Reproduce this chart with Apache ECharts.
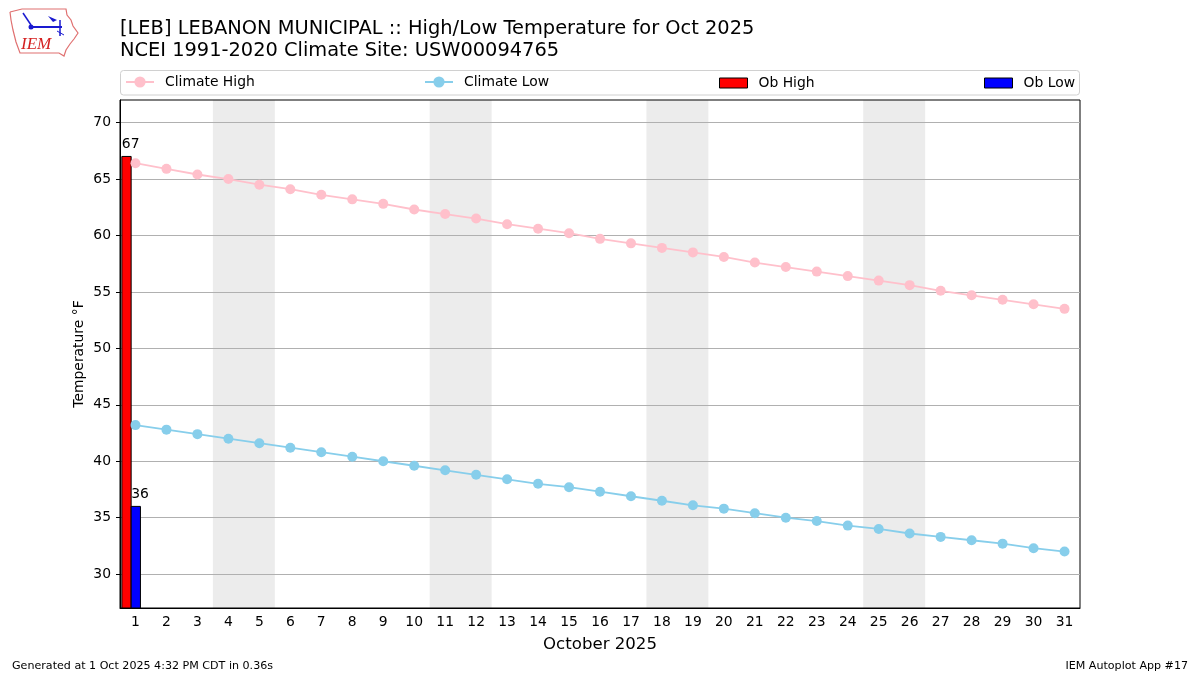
<!DOCTYPE html>
<html>
<head>
<meta charset="utf-8">
<script src="https://cdn.jsdelivr.net/npm/echarts@6/dist/echarts.min.js"></script>
<style>html,body{margin:0;padding:0;background:#fff}#c{width:1200px;height:675px}</style>
</head>
<body>
<div id="c"></div>
<script>
const days = ['1','2','3','4','5','6','7','8','9','10','11','12','13','14','15','16','17','18','19','20','21','22','23','24','25','26','27','28','29','30','31'];
const climateHigh = [66.4,65.9,65.4,65.0,64.5,64.1,63.6,63.2,62.8,62.3,61.9,61.5,61.0,60.6,60.2,59.7,59.3,58.9,58.5,58.1,57.6,57.2,56.8,56.4,56.0,55.6,55.1,54.7,54.3,53.9,53.5];
const climateLow = [43.2,42.8,42.4,42.0,41.6,41.2,40.8,40.4,40.0,39.6,39.2,38.8,38.4,38.0,37.7,37.3,36.9,36.5,36.1,35.8,35.4,35.0,34.7,34.3,34.0,33.6,33.3,33.0,32.7,32.3,32.0];
const obDays = [1];
const obHigh = [67];
const obLow = [36];
const weekends = [[4,5],[11,12],[18,19],[25,26]];
const yTicks = [30,35,40,45,50,55,60,65,70];

const FONT = 'DejaVu Sans';
const FS = 13.9;

function barRenderer(off0, off1) {
  return function (params, api) {
    const x = api.value(0), v = api.value(1);
    const p0 = api.coord([x + off0, v]);
    const p1 = api.coord([x + off1, v]);
    const base = params.coordSys.y + params.coordSys.height;
    return {
      type: 'group',
      children: [
        {type: 'rect', shape: {x: p0[0], y: p0[1], width: p1[0] - p0[0], height: base - p0[1]},
         style: {fill: api.visual('color'), stroke: '#000', lineWidth: 1}},
        {type: 'text', style: {text: String(v), x: p0[0], y: p0[1] - 5, align: 'left', verticalAlign: 'bottom',
         font: FS + 'px "DejaVu Sans"', fill: '#000'}}
      ]
    };
  };
}

function shadeRenderer(params, api) {
  const a = api.value(0), b = api.value(1);
  const cs = params.coordSys;
  const p0 = api.coord([a - 0.5, 50]);
  const p1 = api.coord([b + 0.5, 50]);
  return {type: 'rect', shape: {x: p0[0], y: cs.y, width: p1[0] - p0[0], height: cs.height}, style: {fill: '#ececec'}};
}

const chart = echarts.init(document.getElementById('c'), null, {renderer: 'canvas'});

const legendBase = {orient: 'horizontal', padding: 0, itemWidth: 28, itemHeight: 14, textStyle: {fontFamily: FONT, fontSize: FS, color: '#000', padding: [0,0,0,6]}, selectedMode: false};

chart.setOption({
  animation: false,
  backgroundColor: '#fff',
  textStyle: {fontFamily: FONT},
  title: {
    text: '[LEB] LEBANON MUNICIPAL :: High/Low Temperature for Oct 2025\nNCEI 1991-2020 Climate Site: USW00094765',
    left: 120, top: 18, padding: 0,
    textStyle: {fontFamily: FONT, fontSize: 19.4, fontWeight: 'normal', color: '#000', lineHeight: 22}
  },
  legend: [
    Object.assign({}, legendBase, {left: 125, top: 75, data: [{name: 'Climate High'}]}),
    Object.assign({}, legendBase, {left: 424, top: 75, data: [{name: 'Climate Low'}]}),
    Object.assign({}, legendBase, {left: 719, top: 76, itemHeight: 10, data: [{name: 'Ob High', icon: 'rect', itemStyle: {borderColor: '#000', borderWidth: 1}}]}),
    Object.assign({}, legendBase, {left: 984, top: 76, itemHeight: 10, data: [{name: 'Ob Low', icon: 'rect', itemStyle: {borderColor: '#000', borderWidth: 1}}]})
  ],
  grid: {left: 120, right: 120, top: 100, bottom: 67, show: true, borderColor: '#000', borderWidth: 1, backgroundColor: 'transparent', containLabel: false},
  xAxis: [
    {
      type: 'category', data: days, boundaryGap: true, position: 'bottom',
      name: 'October 2025', nameLocation: 'middle', nameGap: 28,
      nameTextStyle: {fontFamily: FONT, fontSize: 16.6, color: '#000'},
      axisLine: {lineStyle: {color: '#000', width: 1}},
      axisTick: {alignWithLabel: true, length: 4, lineStyle: {color: '#000'}},
      axisLabel: {interval: 0, fontFamily: FONT, fontSize: FS, color: '#000', margin: 7},
      splitLine: {show: false}
    },
    {
      type: 'value', min: 0.5, max: 31.5, show: false, position: 'top'
    }
  ],
  yAxis: {
    type: 'value', min: 27, max: 72,
    name: 'Temperature °F', nameLocation: 'middle', nameGap: 34, nameMoveOverlap: false,
    nameTextStyle: {fontFamily: FONT, fontSize: FS, color: '#000'},
    axisLine: {show: true, lineStyle: {color: '#000'}},
    axisTick: {show: true, length: 4, lineStyle: {color: '#000'}, customValues: yTicks},
    axisLabel: {fontFamily: FONT, fontSize: FS, color: '#000', margin: 9, customValues: yTicks},
    splitLine: {show: true, lineStyle: {color: '#b0b0b0', width: 1}}
  },
  graphic: [
    {type: 'rect', shape: {x: 120.5, y: 70.5, width: 959, height: 24.5, r: 3}, style: {fill: 'rgba(255,255,255,0.8)', stroke: '#d0d0d0', lineWidth: 1}, z: -10},
    {type: 'polyline', shape: {points: [[10,12],[22,9],[66,9],[67,15],[71,20],[73,26],[78,33],[74,39],[70,44],[66,50],[64,56],[59,53],[20,53],[16,42],[13,30],[11,20],[10,12]]}, style: {fill: 'none', stroke: '#e07070', lineWidth: 1.2}},
    {type: 'text', style: {text: 'IEM', x: 21, y: 53, verticalAlign: 'bottom', font: 'italic 17px "Liberation Serif"', fill: '#d42020'}},
    {type: 'line', shape: {x1: 31, y1: 27, x2: 62, y2: 27}, style: {stroke: '#1a1ad0', lineWidth: 2}},
    {type: 'line', shape: {x1: 23, y1: 13, x2: 31, y2: 25}, style: {stroke: '#1a1ad0', lineWidth: 1.5}},
    {type: 'circle', shape: {cx: 31, cy: 27, r: 2.5}, style: {fill: '#1a1ad0'}},
    {type: 'polygon', shape: {points: [[48,16],[57,20],[53,22]]}, style: {fill: '#1a1ad0'}},
    {type: 'line', shape: {x1: 60, y1: 20, x2: 60, y2: 36}, style: {stroke: '#1a1ad0', lineWidth: 1.5}},
    {type: 'line', shape: {x1: 57, y1: 31, x2: 64, y2: 35}, style: {stroke: '#1a1ad0', lineWidth: 1}},
    {type: 'text', style: {text: 'Generated at 1 Oct 2025 4:32 PM CDT in 0.36s', x: 12, y: 666, verticalAlign: 'middle', font: '11.1px "DejaVu Sans"', fill: '#000'}},
    {type: 'text', style: {text: 'IEM Autoplot App #17', x: 1188, y: 666, align: 'right', verticalAlign: 'middle', font: '11.1px "DejaVu Sans"', fill: '#000'}}
  ],
  series: [
    {
      name: 'weekend', type: 'custom', xAxisIndex: 1, yAxisIndex: 0, z: -5, silent: true,
      data: weekends, encode: {x: [0, 1]},
      renderItem: shadeRenderer
    },
    {
      name: 'Climate High', type: 'line', xAxisIndex: 0, data: climateHigh,
      symbol: 'circle', symbolSize: 10, showAllSymbol: true,
      itemStyle: {color: '#ffc0cb'}, lineStyle: {color: '#ffc0cb', width: 1.8}, z: 3
    },
    {
      name: 'Climate Low', type: 'line', xAxisIndex: 0, data: climateLow,
      symbol: 'circle', symbolSize: 10, showAllSymbol: true,
      itemStyle: {color: '#87ceeb'}, lineStyle: {color: '#87ceeb', width: 1.8}, z: 3
    },
    {
      name: 'Ob High', type: 'custom', xAxisIndex: 1, yAxisIndex: 0,
      data: obDays.map((d, i) => [d, obHigh[i]]),
      encode: {x: 0, y: 1},
      itemStyle: {color: '#ff0000'},
      renderItem: barRenderer(-0.44, -0.14), z: 2
    },
    {
      name: 'Ob Low', type: 'custom', xAxisIndex: 1, yAxisIndex: 0,
      data: obDays.map((d, i) => [d, obLow[i]]),
      encode: {x: 0, y: 1},
      itemStyle: {color: '#0000ff'},
      renderItem: barRenderer(-0.14, 0.16), z: 2
    }
  ]
});
</script>
</body>
</html>
